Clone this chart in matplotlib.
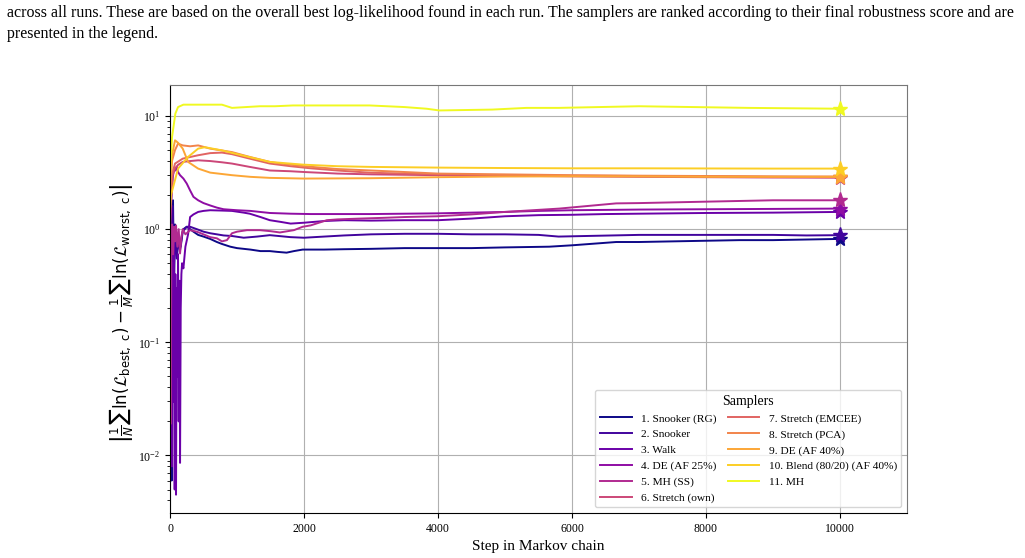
import matplotlib
matplotlib.use('Agg')
import matplotlib.pyplot as plt
import numpy as np

plt.rcParams['font.family'] = ['Liberation Serif', 'DejaVu Serif']
plt.rcParams['mathtext.fontset'] = 'dejavusans'

# sampler names, ranked by final robustness score
labels = ['1. Snooker (RG)', '2. Snooker', '3. Walk', '4. DE (AF 25%)', '5. MH (SS)',
          '6. Stretch (own)', '7. Stretch (EMCEE)', '8. Stretch (PCA)', '9. DE (AF 40%)',
          '10. Blend (80/20) (AF 40%)', '11. MH']

# values (step, robustness)
steps_1 = [0, 15, 25, 35, 45, 60, 75, 100, 120, 150, 180, 200, 250, 300, 350, 420, 500, 600, 700, 775,
           900, 1000, 1200, 1350, 1490, 1600, 1740, 1850, 1980, 2300, 2600, 3000, 3500, 3980, 4500, 5000,
           5660, 6000, 6660, 7000, 7500, 8000, 8500, 9000, 9500, 10000]
vals_1 = [1.5, 1.9, 0.006, 0.5, 1.8, 0.3, 1.1, 0.8, 0.72, 0.65, 0.9, 1.0, 1.05, 1.0, 0.95, 0.89, 0.86, 0.82,
          0.77, 0.74, 0.70, 0.68, 0.66, 0.64, 0.64, 0.63, 0.62, 0.64, 0.66, 0.66, 0.665, 0.67, 0.68, 0.68,
          0.68, 0.69, 0.70, 0.72, 0.77, 0.77, 0.78, 0.79, 0.80, 0.80, 0.81, 0.82]

steps_2 = [0, 20, 40, 60, 80, 100, 130, 160, 190, 250, 300, 400, 500, 600, 700, 800, 925, 1100, 1300,
           1490, 1800, 2000, 2300, 2600, 3000, 3500, 4000, 4500, 5000, 5500, 5800, 6200, 7000, 8000,
           9000, 9500, 10000]
vals_2 = [1.2, 0.3, 1.6, 0.5, 0.9, 0.55, 0.8, 0.7, 0.95, 1.05, 1.05, 1.0, 0.95, 0.92, 0.9, 0.88, 0.87,
          0.84, 0.86, 0.885, 0.85, 0.84, 0.86, 0.88, 0.90, 0.91, 0.91, 0.90, 0.90, 0.89, 0.86, 0.87, 0.89,
          0.89, 0.89, 0.88, 0.885]

steps_3 = [0, 10, 20, 30, 40, 50, 60, 70, 80, 90, 100, 110, 120, 130, 140, 150, 160, 170, 180, 200,
           230, 270, 300, 350, 420, 500, 600, 775, 925, 1100, 1190, 1350, 1490, 1650, 1800, 2000, 2300,
           2600, 3000, 3500, 4000, 4500, 5000, 5500, 6000, 6500, 7000, 8000, 9000, 10000]
vals_3 = [0.9, 0.02, 0.6, 0.008, 0.5, 0.03, 0.8, 0.005, 0.4, 0.0045, 0.3, 0.05, 0.6, 0.02, 0.35, 0.0086,
          0.2, 0.4, 0.5, 0.45, 0.7, 0.9, 1.28, 1.35, 1.42, 1.45, 1.47, 1.46, 1.45, 1.40, 1.37, 1.28, 1.2,
          1.16, 1.12, 1.14, 1.18, 1.2, 1.19, 1.2, 1.2, 1.24, 1.3, 1.33, 1.34, 1.36, 1.37, 1.39, 1.40, 1.42]

steps_4 = [0, 20, 40, 60, 80, 100, 120, 150, 200, 250, 300, 350, 420, 500, 600, 700, 800, 1000, 1200,
           1490, 1800, 2100, 2500, 3000, 3500, 4000, 4500, 5000, 5500, 6000, 7000, 8000, 9000, 10000]
vals_4 = [1.0, 1.8, 2.8, 3.5, 3.3, 3.55, 3.2, 3.0, 2.8, 2.53, 2.2, 1.93, 1.8, 1.7, 1.62, 1.55, 1.5, 1.47,
          1.45, 1.39, 1.37, 1.36, 1.36, 1.36, 1.37, 1.38, 1.40, 1.42, 1.45, 1.47, 1.49, 1.50, 1.51, 1.52]

steps_5 = [0, 10, 20, 30, 45, 60, 75, 90, 110, 130, 150, 170, 190, 230, 300, 400, 500, 600, 700, 775,
           850, 925, 1000, 1150, 1340, 1500, 1640, 1850, 1980, 2100, 2340, 2500, 2830, 3200, 3500, 3980,
           4500, 5000, 5810, 6660, 7000, 8000, 9000, 10000]
vals_5 = [1.0, 0.019, 0.7, 1.1, 0.6, 1.05, 0.78, 1.08, 0.7, 1.0, 0.61, 0.85, 1.0, 0.9, 0.98, 0.95, 0.9,
          0.85, 0.83, 0.78, 0.8, 0.92, 0.95, 0.98, 0.98, 0.96, 0.935, 0.98, 1.05, 1.08, 1.2, 1.22, 1.24,
          1.26, 1.28, 1.3, 1.35, 1.42, 1.52, 1.69, 1.70, 1.75, 1.80, 1.80]

steps_6 = [0, 20, 40, 75, 120, 190, 300, 420, 600, 775, 925, 1190, 1490, 1800, 2000, 2500, 3000, 4000,
           5000, 6000, 7000, 8000, 9000, 10000]
vals_6 = [1.0, 2.0, 3.0, 3.43, 3.7, 3.93, 4.0, 4.06, 4.0, 3.9, 3.8, 3.55, 3.3, 3.25, 3.2, 3.1, 3.05, 3.0,
          2.97, 2.93, 2.9, 2.88, 2.86, 2.85]

steps_7 = [0, 30, 75, 190, 420, 600, 775, 925, 1190, 1490, 1800, 2100, 2500, 3000, 3500, 4000, 5000,
           6000, 7000, 8000, 9000, 10000]
vals_7 = [1.5, 3.0, 3.8, 4.2, 4.5, 4.7, 4.75, 4.6, 4.2, 3.8, 3.6, 3.45, 3.3, 3.15, 3.1, 3.05, 3.0, 2.97,
          2.95, 2.93, 2.9, 2.88]

steps_8 = [0, 30, 75, 120, 190, 300, 420, 600, 925, 1190, 1490, 1650, 2000, 2500, 3000, 3500, 4000, 5000,
           6000, 7000, 8000, 9000, 10000]
vals_8 = [2.0, 4.0, 5.0, 5.7, 5.5, 5.4, 5.5, 5.15, 4.8, 4.35, 3.93, 3.8, 3.6, 3.4, 3.3, 3.2, 3.1, 3.05,
          3.0, 2.97, 2.95, 2.93, 2.92]

steps_9 = [0, 30, 75, 120, 190, 270, 420, 600, 925, 1200, 1490, 2000, 3000, 4000, 5000, 6000, 7000, 8000,
           9000, 10000]
vals_9 = [2.5, 4.5, 6.1, 5.8, 5.15, 3.93, 3.43, 3.16, 3.0, 2.9, 2.84, 2.8, 2.82, 2.88, 2.92, 2.93, 2.92,
          2.9, 2.9, 2.9]

steps_10 = [0, 15, 120, 270, 420, 520, 775, 1070, 1490, 1980, 2500, 3000, 4000, 5000, 6000, 7000, 8000,
            9000, 10000]
vals_10 = [1.5, 2.0, 3.43, 4.35, 5.15, 5.3, 4.97, 4.5, 3.93, 3.72, 3.6, 3.55, 3.5, 3.47, 3.45, 3.45,
           3.44, 3.43, 3.43]

steps_11 = [0, 30, 80, 120, 200, 500, 775, 925, 1340, 1565, 1835, 2980, 3500, 3830, 4020, 4810, 5320,
            5800, 7000, 8640, 10000]
vals_11 = [3.0, 6.5, 10.5, 12.0, 12.6, 12.6, 12.6, 11.8, 12.2, 12.2, 12.4, 12.4, 12.0, 11.6, 11.2, 11.4,
           11.8, 11.8, 12.2, 11.8, 11.6]

all_steps = [steps_1, steps_2, steps_3, steps_4, steps_5, steps_6, steps_7, steps_8, steps_9, steps_10, steps_11]
all_vals = [vals_1, vals_2, vals_3, vals_4, vals_5, vals_6, vals_7, vals_8, vals_9, vals_10, vals_11]

colors = plt.cm.plasma(np.linspace(0, 1, len(labels)))

fig = plt.figure(figsize=(10.25, 5.58), dpi=100)

# caption text from the page above the figure
fig.text(7 / 1025, 1 - 13 / 558,
         'across all runs. These are based on the overall best log-likelihood found in each run. '
         'The samplers are ranked according to their final robustness score and are',
         fontsize=11.5, va='center', ha='left')
fig.text(7 / 1025, 1 - 34 / 558, 'presented in the legend.', fontsize=11.5, va='center', ha='left')

ax = fig.add_axes([170 / 1025, 1 - 513 / 558, (907 - 170) / 1025, (513 - 85) / 558])

for i in range(len(labels)):
    ax.plot(all_steps[i], all_vals[i], color=colors[i], lw=1.4, label=labels[i])
    ax.plot(all_steps[i][-1], all_vals[i][-1], marker='*', color=colors[i], ms=11, ls='none')

ax.set_yscale('log')
ax.set_xlim(0, 11000)
ax.set_ylim(3.1e-3, 18.8)
ax.set_xticks([0, 2000, 4000, 6000, 8000, 10000])
ax.grid(True, color='#b0b0b0', lw=0.8)
ax.set_axisbelow(True)
ax.tick_params(labelsize=8.5)
for s in ['top', 'right']:
    ax.spines[s].set_color('#777777')

ax.set_xlabel('Step in Markov chain', fontsize=11, labelpad=4)
ax.set_ylabel(r'$\left|\frac{1}{N}\sum\ln(\mathcal{L}_{\mathrm{best,\ c}}) - '
              r'\frac{1}{M}\sum\ln(\mathcal{L}_{\mathrm{worst,\ c}})\right|$', fontsize=12, labelpad=2)
ax.yaxis.set_label_coords(-0.046, 0.467)

ax.legend(title='Samplers', ncol=2, loc='lower right', fontsize=8.2, title_fontsize=10,
          columnspacing=1.0, handlelength=2.8, labelspacing=0.5, bbox_to_anchor=(1.0, 0.0))

plt.savefig('out.png', dpi=100)
